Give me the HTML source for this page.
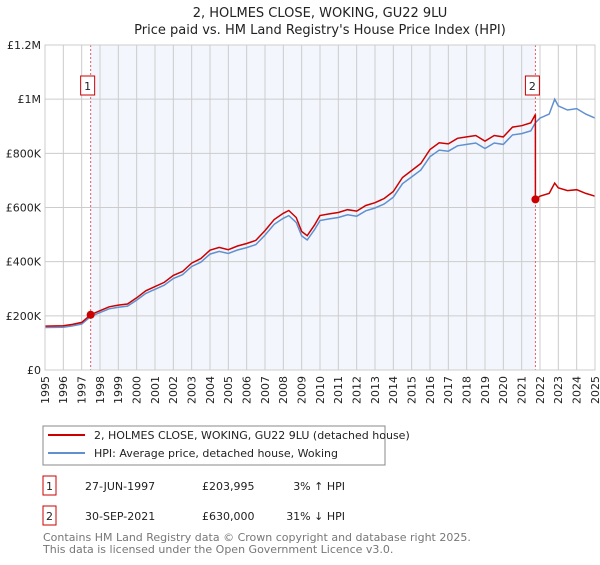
<!DOCTYPE html>
<html><head><meta charset="utf-8">
<style>
body{margin:0;background:#fff;font-family:"Liberation Sans","DejaVu Sans",sans-serif;}
svg text{font-family:"DejaVu Sans","Liberation Sans",sans-serif;}
</style></head>
<body>
<svg id="chart" width="600" height="560" xmlns="http://www.w3.org/2000/svg">
<text x="320" y="17" text-anchor="middle" font-size="13" fill="#222">2, HOLMES CLOSE, WOKING, GU22 9LU</text>
<text x="320" y="34" text-anchor="middle" font-size="13" fill="#222">Price paid vs. HM Land Registry's House Price Index (HPI)</text>
<g id="plot"></g>
<g>
<rect x="43" y="426" width="342" height="39" fill="#fff" stroke="#888" stroke-width="1"/>
<line x1="48" y1="435" x2="85" y2="435" stroke="#cc0000" stroke-width="2"/>
<text x="94" y="439" font-size="11" fill="#222">2, HOLMES CLOSE, WOKING, GU22 9LU (detached house)</text>
<line x1="48" y1="453" x2="85" y2="453" stroke="#6090d0" stroke-width="2"/>
<text x="94" y="457" font-size="11" fill="#222">HPI: Average price, detached house, Woking</text>
</g>
<g font-size="11" fill="#222">
<rect x="43" y="476" width="13" height="19" fill="#fff" stroke="#cc0000"/>
<text x="49.5" y="490" text-anchor="middle">1</text>
<text x="85" y="490">27-JUN-1997</text>
<text x="202" y="490">£203,995</text>
<text x="345" y="490" text-anchor="end">3% ↑ HPI</text>
<rect x="43" y="506" width="13" height="19" fill="#fff" stroke="#cc0000"/>
<text x="49.5" y="520" text-anchor="middle">2</text>
<text x="85" y="520">30-SEP-2021</text>
<text x="202" y="520">£630,000</text>
<text x="345" y="520" text-anchor="end">31% ↓ HPI</text>
</g>
<text x="43" y="541" font-size="11" fill="#777">Contains HM Land Registry data © Crown copyright and database right 2025.</text>
<text x="43" y="553" font-size="11" fill="#777">This data is licensed under the Open Government Licence v3.0.</text>
</svg>
<script>
const hpiYears=[1995,1996,1996.5,1997,1997.5,1998,1998.5,1999,1999.5,2000,2000.5,2001,2001.5,2002,2002.5,2003,2003.5,2004,2004.5,2005,2005.5,2006,2006.5,2007,2007.5,2008,2008.3,2008.7,2009,2009.3,2009.7,2010,2010.5,2011,2011.5,2012,2012.5,2013,2013.5,2014,2014.5,2015,2015.5,2016,2016.5,2017,2017.5,2018,2018.5,2019,2019.5,2020,2020.5,2021,2021.5,2021.75,2022,2022.5,2022.8,2023,2023.5,2024,2024.5,2025];
const hpiValues=[157000,158000,163000,170000,198000,212000,226000,232000,236000,258000,283000,298000,313000,338000,352000,382000,398000,428000,438000,430000,443000,452000,463000,498000,538000,560000,570000,545000,495000,480000,518000,552000,558000,563000,573000,568000,588000,598000,613000,638000,688000,713000,738000,788000,812000,808000,828000,833000,838000,818000,838000,833000,868000,873000,883000,913000,930000,945000,1000000,975000,960000,965000,945000,930000];
const saleDates=[1997.49,2021.75];
const salePrices=[203995,630000];
const saleLabels=["1","2"];
const yTicks=[0,200000,400000,600000,800000,1000000,1200000];
const yTickLabels=["£0","£200K","£400K","£600K","£800K","£1M","£1.2M"];
const xTicks=[1995,1996,1997,1998,1999,2000,2001,2002,2003,2004,2005,2006,2007,2008,2009,2010,2011,2012,2013,2014,2015,2016,2017,2018,2019,2020,2021,2022,2023,2024,2025];

const L=45,R=595,T=45,B=370;
const xs=v=>L+(v-1995)/30*(R-L);
const ys=v=>B-v/1200000*(B-T);
const NS="http://www.w3.org/2000/svg";
const g=document.getElementById('plot');
function mk(t,a){const e=document.createElementNS(NS,t);for(const k in a)e.setAttribute(k,a[k]);g.appendChild(e);return e;}
function hpiAt(d){for(let i=1;i<hpiYears.length;i++){if(d<=hpiYears[i]){const f=(d-hpiYears[i-1])/(hpiYears[i]-hpiYears[i-1]);return hpiValues[i-1]+f*(hpiValues[i]-hpiValues[i-1]);}}return hpiValues[hpiValues.length-1];}

const bg=mk('rect',{x:L,y:T,width:R-L,height:B-T,fill:'#fff'});


const sh=mk('rect',{x:xs(saleDates[0]),y:T,width:xs(saleDates[1])-xs(saleDates[0]),height:B-T,fill:'#f3f7fd'});


xTicks.forEach(t=>{
 const l=mk('line',{x1:xs(t),x2:xs(t),y1:T,y2:B,stroke:'#ccc','stroke-width':1});
 
 
 const tx=mk('text',{x:xs(t),y:B+6,'font-size':11,fill:'#222','text-anchor':'end',transform:`rotate(-90 ${xs(t)} ${B+6})`,dy:'0.35em'});
 tx.textContent=t;
 
 
});
yTicks.forEach((t,i)=>{
 const l=mk('line',{x1:L,x2:R,y1:ys(t),y2:ys(t),stroke:'#ccc','stroke-width':1});
 
 
 const tx=mk('text',{x:L-4,y:ys(t)+4,'font-size':11,fill:'#222','text-anchor':'end'});
 tx.textContent=yTickLabels[i];
 
 
});
saleDates.forEach((d,i)=>{
 const l=mk('line',{x1:xs(d),x2:xs(d),y1:T,y2:B,stroke:'#e06060','stroke-width':1,'stroke-dasharray':'2,2'});
 
 
 const r=mk('rect',{x:xs(d)-10,y:76,width:14,height:19,fill:'#fff',stroke:'#cc0000'});
 
 
 const tx=mk('text',{x:xs(d)-3,y:90,'font-size':11,fill:'#222','text-anchor':'middle'});
 tx.textContent=saleLabels[i];
 
 
});
const hp=mk('path',{d:hpiYears.map((y,i)=>(i?'L':'M')+xs(y).toFixed(1)+','+ys(hpiValues[i]).toFixed(1)).join(''),fill:'none',stroke:'#6090d0','stroke-width':1.5});


let pts=[];
hpiYears.forEach((y,i)=>{
 let k=-1;for(let s=0;s<saleDates.length;s++)if(y>=saleDates[s])k=s;
 const r0=k<0?salePrices[0]/hpiAt(saleDates[0]):salePrices[k]/hpiAt(saleDates[k]);
 if(k>=1&&pts.length&&y===hpiYears.find(v=>v>=saleDates[k])){
   const prev=salePrices[k-1]/hpiAt(saleDates[k-1]);
   pts.push([xs(saleDates[k]),ys(hpiAt(saleDates[k])*prev)]);
   pts.push([xs(saleDates[k]),ys(salePrices[k])]);
 }
 pts.push([xs(y),ys(hpiValues[i]*r0)]);
});
const pp=mk('path',{d:pts.map((p,i)=>(i?'L':'M')+p[0].toFixed(1)+','+p[1].toFixed(1)).join(''),fill:'none',stroke:'#cc0000','stroke-width':1.5});


saleDates.forEach((d,i)=>{
 const c=mk('circle',{cx:xs(d),cy:ys(salePrices[i]),r:4,fill:'#cc0000'});
 
 
});
const fr=mk('rect',{x:L,y:T,width:R-L,height:B-T,fill:'none',stroke:'#ccc'});


</script>
</body></html>
